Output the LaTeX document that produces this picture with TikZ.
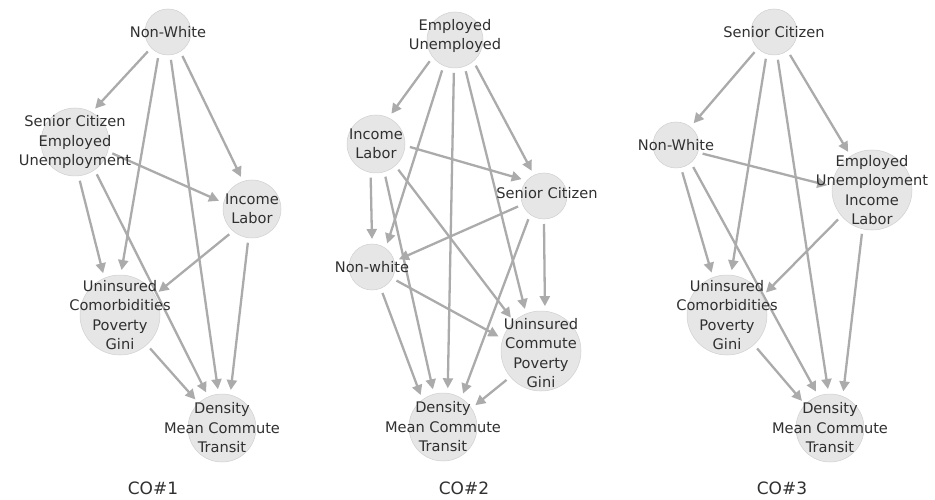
\documentclass[tikz,border=0pt]{standalone}
\usepackage{fontspec}
\setmainfont{DejaVu Sans}
\usetikzlibrary{arrows.meta,backgrounds}
\definecolor{edgec}{HTML}{ABABAB}
\definecolor{nodefill}{HTML}{E6E6E6}
\definecolor{nodeline}{HTML}{D0D0D0}
\definecolor{txt}{HTML}{303030}
\begin{document}
\begin{tikzpicture}[x=1pt,y=-1pt,
  var/.style={circle, fill=nodefill, draw=nodeline, line width=0.5pt, inner sep=0pt, outer sep=5pt, minimum size=#1},
  var/.default=46pt,
  lab/.style={align=center, text=txt, font=\fontsize{14.6}{19.5}\selectfont, inner sep=0pt},
  arr/.style={draw=edgec, line width=2.3pt, -{Triangle[length=10pt,width=10pt]}},
  co/.style={text=txt, font=\fontsize{17}{20}\selectfont, inner sep=0pt}]
\useasboundingbox (0,0) rectangle (935,500);
% ---------- panel 1 ----------
\node[var=46pt, label={[lab,name=nw1t]center:Non-White}] (nw1) at (168,32) {};
\node[var=68pt, label={[lab,name=sc1t]center:Senior Citizen\\Employed\\Unemployment}] (sc1) at (75,142) {};
\node[var=58pt, label={[lab,name=il1t]center:Income\\Labor}] (il1) at (252,209) {};
\node[var=80pt, label={[lab,name=uc1t]center:Uninsured\\Comorbidities\\Poverty\\Gini}] (uc1) at (120,315) {};
\node[var=68pt, label={[lab,name=dm1t]center:Density\\Mean Commute\\Transit}] (dm1) at (222,428) {};
\node[co] (co1) at (153,488) {CO\#1};
% ---------- panel 2 ----------
\node[var=56pt, label={[lab,name=eu2t,yshift=4pt]center:Employed\\Unemployed}] (eu2) at (455,40) {};
\node[var=58pt, label={[lab,name=il2t]center:Income\\Labor}] (il2) at (376,144) {};
\node[var=46pt, label={[lab,name=sc2t,xshift=3pt,yshift=3pt]center:Senior Citizen}] (sc2) at (544,196) {};
\node[var=46pt, label={[lab,name=nw2t]center:Non-white}] (nw2) at (372,267) {};
\node[var=80pt, label={[lab,name=uc2t,yshift=-2pt]center:Uninsured\\Commute\\Poverty\\Gini}] (uc2) at (541,351) {};
\node[var=68pt, label={[lab,name=dm2t]center:Density\\Mean Commute\\Transit}] (dm2) at (443,427) {};
\node[co] (co2) at (464,488) {CO\#2};
% ---------- panel 3 ----------
\node[var=46pt, label={[lab,name=sc3t]center:Senior Citizen}] (sc3) at (774,32) {};
\node[var=46pt, label={[lab,name=nw3t]center:Non-White}] (nw3) at (676,145) {};
\node[var=80pt, label={[lab,name=eu3t]center:Employed\\Unemployment\\Income\\Labor}] (eu3) at (872,190) {};
\node[var=80pt, label={[lab,name=uc3t]center:Uninsured\\Comorbidities\\Poverty\\Gini}] (uc3) at (727,315) {};
\node[var=68pt, label={[lab,name=dm3t]center:Density\\Mean Commute\\Transit}] (dm3) at (830,428) {};
\node[co] (co3) at (782,488) {CO\#3};
\begin{scope}[on background layer]
\fill[white] (0,0) rectangle (935,500);
% panel 1 edges
\draw[arr] (nw1.224) -- (sc1.59);
\draw[arr] (nw1.249) -- (uc1.88);
\draw[arr] (nw1.276) -- (dm1.96);
\draw[arr] (nw1.301) -- (il1.109);
\draw[arr] (sc1.343) -- (il1.166);
\draw[arr] (sc1.277) -- (uc1.112);
\draw[arr] (sc1.304) -- (dm1.114);
\draw[arr] (il1.228) -- (uc1.31);
\draw[arr] (il1.263) -- (dm1.77);
\draw[arr] (uc1.312) -- (dm1.133);
% panel 2 edges
\draw[arr] (eu2.220) -- (il2.63);
\draw[arr] (eu2.247) -- (nw2.57);
\draw[arr] (eu2.268) -- (dm2.83);
\draw[arr] (eu2.289) -- (uc2.111);
\draw[arr] (eu2.309) -- (sc2.116);
\draw[arr] (il2.261) -- (nw2.90);
\draw[arr] (il2.286) -- (dm2.105);
\draw[arr] (il2.311) -- (uc2.132);
\draw[arr] (il2.355) -- (sc2.143);
\draw[arr] (sc2.202) -- (nw2.16);
\draw[arr] (sc2.236) -- (dm2.59);
\draw[arr] (sc2.270) -- (uc2.85);
\draw[arr] (nw2.292) -- (dm2.125);
\draw[arr] (nw2.331) -- (uc2.161);
\draw[arr] (uc2.220) -- (dm2.34);
% panel 3 edges
\draw[arr] (sc3.226) -- (nw3.51);
\draw[arr] (sc3.253) -- (uc3.84);
\draw[arr] (sc3.278) -- (dm3.93);
\draw[arr] (sc3.305) -- (eu3.122);
\draw[arr] (nw3.342) -- (eu3.174);
\draw[arr] (nw3.283) -- (uc3.110);
\draw[arr] (nw3.308) -- (dm3.111);
\draw[arr] (eu3.221) -- (uc3.30);
\draw[arr] (eu3.257) -- (dm3.70);
\draw[arr] (uc3.312) -- (dm3.136);
\end{scope}
\end{tikzpicture}
\end{document}
